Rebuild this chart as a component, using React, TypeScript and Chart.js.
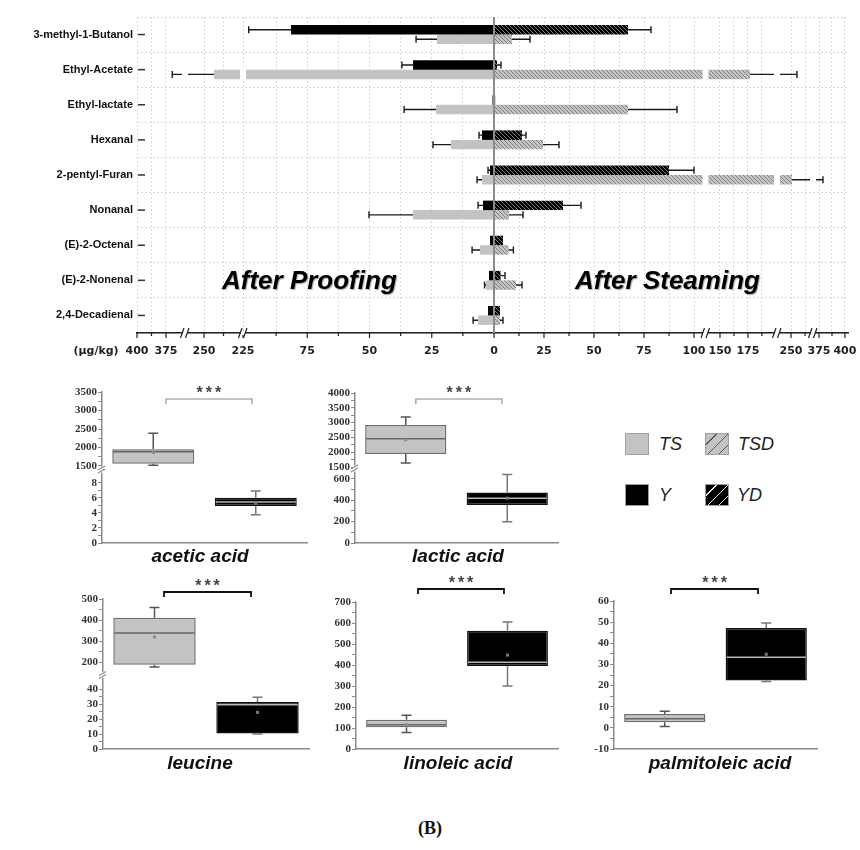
import React, { useEffect, useRef } from 'react';
import { Chart, registerables } from 'chart.js';
Chart.register(...registerables);

// ---------------- top panel data ----------------
const CATEGORIES = ['3-methyl-1-Butanol', 'Ethyl-Acetate', 'Ethyl-lactate', 'Hexanal', '2-pentyl-Furan', 'Nonanal', '(E)-2-Octenal', '(E)-2-Nonenal', '2,4-Decadienal'];
const Y_VALUES = [81.5, 32.5, 0.6, 4.8, 1.6, 4.4, 1.6, 2.0, 2.4];
const Y_ERRORS = [17, 4.5, 0, 1.2, 0.8, 2, 0, 0, 0];
const TS_VALUES = [22.9, 243.6, 23.3, 17.3, 4.8, 32.5, 5.6, 3.2, 6.4];
const TS_ERRORS = [8.4, 126, 12.8, 7.2, 2, 17.7, 3.2, 0.6, 2];
const YD_VALUES = [67, 1.5, 0.6, 14, 87.5, 34.5, 4.5, 3.3, 3];
const YD_ERRORS = [11.5, 2, 0, 2, 12.5, 9, 0, 2.2, 0];
const TSD_VALUES = [9, 176.9, 67, 24.5, 250.9, 7.5, 7.2, 11, 3];
const TSD_ERRORS = [9, 78.4, 24.5, 8, 127.9, 7, 2.5, 3, 1.5];

const AXIS_LEFT_TICKS = [400, 387.5, 375, 250, 237.5, 225, 87.5, 75, 62.5, 50, 37.5, 25, 12.5];
const AXIS_RIGHT_TICKS = [12.5, 25, 37.5, 50, 62.5, 75, 87.5, 100, 150, 162.5, 175, 187.5, 250, 262.5, 375, 387.5, 400];

// broken-axis scale definition: [valueStart, valueEnd, unitStart, unitEnd]
const LEFT_SEGMENTS = [[0, 100.8, 0, 251], [225, 262.2, 251, 309], [358.6, 400, 309, 357]];
const RIGHT_SEGMENTS = [[0, 105.5, 0, 211], [137.5, 201, 212, 283], [237.5, 269.6, 283, 319], [369.2, 402, 319, 353]];
const LEFT_BREAKS = [251, 309];
const RIGHT_BREAKS = [211.5, 283, 319];

// ---------------- box plot data: [min, q1, median, q3, max, mean] ----------------
const ACETIC_TS = [1518, 1563, 1883, 1955, 2387, 1865];
const ACETIC_Y = [3.78, 4.93, 5.47, 6.04, 6.93, 5.3];
const LACTIC_TS = [1636, 1943, 2455, 2920, 3193, 2420];
const LACTIC_Y = [199, 357, 420, 474, 641, 420];
const LEUCINE_TS = [176, 187, 338, 411, 459, 319];
const LEUCINE_Y = [10.0, 10.3, 29.7, 31.5, 34.6, 24.5];
const LINOLEIC_TS = [79, 103, 115, 139.5, 161, 115];
const LINOLEIC_Y = [300, 395, 413, 563, 605, 447];
const PALMITOLEIC_TS = [0.6, 2.7, 4.25, 6.6, 7.9, 4.3];
const PALMITOLEIC_Y = [21.9, 22.4, 33.4, 47.2, 49.6, 34.8];

const ACETIC_TICKS = [0, 2, 4, 6, 8, 1500, 2000, 2500, 3000, 3500];
const ACETIC_MINOR = [1, 3, 5, 7, 1750, 2250, 2750, 3250];
const LACTIC_TICKS = [0, 200, 400, 600, 1500, 2000, 2500, 3000, 3500, 4000];
const LACTIC_MINOR = [100, 300, 500, 1750, 2250, 2750, 3250, 3750];
const LEUCINE_TICKS = [0, 10, 20, 30, 40, 200, 300, 400, 500];
const LEUCINE_MINOR = [5, 15, 25, 35, 250, 350, 450];
const LINOLEIC_TICKS = [0, 100, 200, 300, 400, 500, 600, 700];
const LINOLEIC_MINOR = [50, 150, 250, 350, 450, 550, 650];
const PALMITOLEIC_TICKS = [-10, 0, 10, 20, 30, 40, 50, 60];
const PALMITOLEIC_MINOR = [-5, 5, 15, 25, 35, 45, 55];

const ACETIC_SEGMENTS = [[0, 9.33, 0, 70], [1500, 3500, 77, 151]];
const LACTIC_SEGMENTS = [[0, 684, 0, 73], [1500, 4000, 76, 150]];
const LEUCINE_SEGMENTS = [[0, 45, 0, 67.2], [170, 500, 80.7, 150]];
const LINOLEIC_SEGMENTS = [[0, 700, 0, 147]];
const PALMITOLEIC_SEGMENTS = [[-10, 60, 0, 148]];

function mapSegments(v: number, segs: number[][]): number {
  for (let k = 0; k < segs.length; k++) {
    const [v0, v1, u0, u1] = segs[k];
    if (v < v0) return u0;
    if (v <= v1 || k === segs.length - 1) return u0 + ((v - v0) * (u1 - u0)) / (v1 - v0);
  }
  return 0;
}
const mapLeft = (v: number) => mapSegments(v, LEFT_SEGMENTS);
const mapRight = (v: number) => mapSegments(v, RIGHT_SEGMENTS);

const GRAY = '#c3c3c3';

function makeHatch(ctx: CanvasRenderingContext2D, bg: string, fg: string, size: number, lw: number) {
  const c = document.createElement('canvas');
  c.width = size;
  c.height = size;
  const g = c.getContext('2d')!;
  g.fillStyle = bg;
  g.fillRect(0, 0, size, size);
  g.strokeStyle = fg;
  g.lineWidth = lw;
  g.beginPath();
  for (let k = -size; k <= size; k += size) {
    g.moveTo(k, 0);
    g.lineTo(k + size, size);
  }
  g.stroke();
  return ctx.createPattern(c, 'repeat')!;
}

function TopChart() {
  const ref = useRef<HTMLCanvasElement>(null);
  useEffect(() => {
    const canvas = ref.current!;
    const ctx0 = canvas.getContext('2d')!;
    const hatchBlack = makeHatch(ctx0, '#000', '#7a7a7a', 4, 1);
    const hatchGray = makeHatch(ctx0, GRAY, '#7f7f7f', 4, 1);

    const tickList = [
      ...AXIS_LEFT_TICKS.map((v) => ({ u: -mapLeft(v), v })),
      { u: 0, v: 0 },
      ...AXIS_RIGHT_TICKS.map((v) => ({ u: mapRight(v), v })),
    ].map((t) => ({ u: t.u, label: t.v % 25 === 0 ? String(t.v) : '' }));

    const series = [
      { values: Y_VALUES, errors: Y_ERRORS, side: -1 },
      { values: YD_VALUES, errors: YD_ERRORS, side: 1 },
      { values: TS_VALUES, errors: TS_ERRORS, side: -1 },
      { values: TSD_VALUES, errors: TSD_ERRORS, side: 1 },
    ];
    const mapSide = (v: number, side: number) => (side < 0 ? -mapLeft(v) : mapRight(v));

    const plugin = {
      id: 'topExtras',
      afterDatasetsDraw(chart: any) {
        const ctx = chart.ctx;
        const a = chart.chartArea;
        const xs = chart.scales.x;
        ctx.save();
        // error bars
        series.forEach((s, d) => {
          const meta = chart.getDatasetMeta(d);
          s.values.forEach((v, i) => {
            const err = s.errors[i];
            if (!err) return;
            const el = meta.data[i];
            const px = xs.getPixelForValue(mapSide(v + err, s.side));
            ctx.strokeStyle = '#1a1a1a';
            ctx.lineWidth = 1.4;
            ctx.beginPath();
            ctx.moveTo(el.x, el.y);
            ctx.lineTo(px, el.y);
            ctx.moveTo(px, el.y - 3.5);
            ctx.lineTo(px, el.y + 3.5);
            ctx.stroke();
          });
        });
        // gaps at axis breaks
        ctx.fillStyle = '#fff';
        series.forEach((s, d) => {
          const meta = chart.getDatasetMeta(d);
          const breaks = s.side < 0 ? LEFT_BREAKS : RIGHT_BREAKS;
          s.values.forEach((v, i) => {
            const extent = mapSide(v + s.errors[i], s.side) * s.side;
            const el = meta.data[i];
            breaks.forEach((b) => {
              if (extent > b + 1) {
                const px = xs.getPixelForValue(b * s.side);
                ctx.fillRect(px - 3, el.y - el.height / 2 - 0.5, 6, el.height + 1);
              }
            });
          });
        });
        // zero line
        const x0 = xs.getPixelForValue(0);
        ctx.strokeStyle = '#8c8c8c';
        ctx.lineWidth = 2;
        ctx.beginPath();
        ctx.moveTo(x0, a.top);
        ctx.lineTo(x0, a.bottom);
        ctx.stroke();
        ctx.restore();
      },
      afterDraw(chart: any) {
        const ctx = chart.ctx;
        const a = chart.chartArea;
        const xs = chart.scales.x;
        const ys = chart.scales.y;
        ctx.save();
        // tick marks
        ctx.strokeStyle = '#222';
        ctx.lineWidth = 1.2;
        tickList.forEach((t) => {
          const px = xs.getPixelForValue(t.u);
          ctx.beginPath();
          ctx.moveTo(px, a.bottom);
          ctx.lineTo(px, a.bottom + (t.label ? 5 : 3));
          ctx.stroke();
        });
        // axis breaks
        const allBreaks = [...LEFT_BREAKS.map((b) => -b), ...RIGHT_BREAKS];
        allBreaks.forEach((b) => {
          const px = xs.getPixelForValue(b);
          ctx.fillStyle = '#fff';
          ctx.fillRect(px - 2.5, a.bottom - 2, 5, 4);
          ctx.strokeStyle = '#222';
          ctx.lineWidth = 1.2;
          ctx.beginPath();
          ctx.moveTo(px - 4.5, a.bottom + 5);
          ctx.lineTo(px - 1, a.bottom - 5);
          ctx.moveTo(px + 0.5, a.bottom + 5);
          ctx.lineTo(px + 4, a.bottom - 5);
          ctx.stroke();
        });
        // category dashes
        ctx.strokeStyle = '#333';
        ctx.lineWidth = 1.5;
        CATEGORIES.forEach((_, i) => {
          const py = ys.getPixelForValue(i);
          ctx.beginPath();
          ctx.moveTo(a.left + 1, py);
          ctx.lineTo(a.left + 8, py);
          ctx.stroke();
        });
        // unit label
        ctx.fillStyle = '#222';
        ctx.font = 'bold 11px "DejaVu Sans"';
        ctx.textAlign = 'center';
        ctx.textBaseline = 'middle';
        ctx.fillText('(μg/kg)', 96, a.bottom + 18.6);
        // panel captions
        ctx.font = 'italic bold 26px "Liberation Sans"';
        ctx.textAlign = 'left';
        ctx.textBaseline = 'alphabetic';
        ctx.fillStyle = '#000';
        ctx.shadowColor = 'rgba(0,0,0,0.35)';
        ctx.shadowOffsetX = 1;
        ctx.shadowOffsetY = 1;
        ctx.shadowBlur = 1;
        ctx.fillText('After Proofing', 222, 289);
        ctx.fillText('After Steaming', 575, 289);
        ctx.restore();
      },
    };

    const chart = new Chart(canvas, {
      type: 'bar',
      data: {
        labels: CATEGORIES,
        datasets: [
          { label: 'Y', data: Y_VALUES.map((v) => -mapLeft(v)), backgroundColor: '#000', stack: 'upper' },
          { label: 'YD', data: YD_VALUES.map((v) => mapRight(v)), backgroundColor: hatchBlack, stack: 'upper' },
          { label: 'TS', data: TS_VALUES.map((v) => -mapLeft(v)), backgroundColor: GRAY, stack: 'lower' },
          { label: 'TSD', data: TSD_VALUES.map((v) => mapRight(v)), backgroundColor: hatchGray, stack: 'lower' },
        ] as any,
      },
      options: {
        indexAxis: 'y',
        animation: false,
        responsive: false,
        events: [],
        layout: { padding: { top: 17, right: 12, left: 0, bottom: 0 } },
        datasets: { bar: { categoryPercentage: 0.54, barPercentage: 1 } } as any,
        plugins: { legend: { display: false }, tooltip: { enabled: false } },
        scales: {
          x: {
            type: 'linear',
            min: -357,
            max: 354,
            stacked: false,
            afterBuildTicks: (s: any) => {
              s.ticks = tickList.map((t) => ({ value: t.u }));
            },
            afterFit: (s: any) => {
              s.height = 37;
              s.paddingLeft = 0;
              s.paddingRight = 0;
            },
            grid: { color: '#d9d9d9', lineWidth: 1, drawTicks: false },
            border: { display: true, color: '#222', width: 1.5, dash: [2, 2] },
            ticks: {
              autoSkip: false,
              maxRotation: 0,
              minRotation: 0,
              padding: 12,
              color: '#222',
              font: { family: 'DejaVu Sans', weight: 'bold', size: 11 },
              callback: (_v: any, idx: number) => (tickList[idx] ? tickList[idx].label : ''),
            },
          },
          y: {
            type: 'category',
            afterFit: (s: any) => {
              s.width = 137;
              s.paddingTop = 0;
              s.paddingBottom = 0;
            },
            grid: { offset: true, color: '#d9d9d9', lineWidth: 1, drawTicks: false },
            border: { display: false, dash: [2, 2] },
            ticks: { padding: 4, color: '#111', font: { family: 'Liberation Sans', weight: 'bold', size: 11 } },
          },
        },
      } as any,
      plugins: [plugin],
    });
    return () => chart.destroy();
  }, []);
  return (
    <canvas ref={ref} width={860} height={370} style={{ position: 'absolute', left: 0, top: 0, width: 860, height: 370 }} />
  );
}

type BoxCfg = {
  title: string;
  ts: number[];
  y: number[];
  segs: number[][];
  uMax: number;
  ticks: number[];
  minor: number[];
  breakU?: number;
  left: number;
  top: number;
  width: number;
  height: number;
  padTop: number;
  padRight: number;
  yWidth: number;
  xHeight: number;
  bracket: [number, number];
  bracketY: number;
  dark: boolean;
  titleX: number;
  titleY: number;
};

const BOX_CHARTS: BoxCfg[] = [
  { title: 'acetic acid', ts: ACETIC_TS, y: ACETIC_Y, segs: ACETIC_SEGMENTS, uMax: 151, ticks: ACETIC_TICKS, minor: ACETIC_MINOR, breakU: 73.5, left: 40, top: 375, width: 275, height: 195, padTop: 17, padRight: 8, yWidth: 62, xHeight: 27, bracket: [0.124, 0.963], bracketY: 399, dark: false, titleX: 200, titleY: 562 },
  { title: 'lactic acid', ts: LACTIC_TS, y: LACTIC_Y, segs: LACTIC_SEGMENTS, uMax: 150, ticks: LACTIC_TICKS, minor: LACTIC_MINOR, breakU: 74.5, left: 300, top: 375, width: 265, height: 195, padTop: 18, padRight: 7, yWidth: 55, xHeight: 27, bracket: [0.1, 0.948], bracketY: 399, dark: false, titleX: 458, titleY: 562 },
  { title: 'leucine', ts: LEUCINE_TS, y: LEUCINE_Y, segs: LEUCINE_SEGMENTS, uMax: 150, ticks: LEUCINE_TICKS, minor: LEUCINE_MINOR, breakU: 74, left: 40, top: 565, width: 275, height: 215, padTop: 34, padRight: 6, yWidth: 63, xHeight: 31, bracket: [0.092, 0.937], bracketY: 592, dark: true, titleX: 200, titleY: 769 },
  { title: 'linoleic acid', ts: LINOLEIC_TS, y: LINOLEIC_Y, segs: LINOLEIC_SEGMENTS, uMax: 147, ticks: LINOLEIC_TICKS, minor: LINOLEIC_MINOR, left: 300, top: 565, width: 265, height: 215, padTop: 37, padRight: 7, yWidth: 56, xHeight: 31, bracket: [0.114, 0.965], bracketY: 589, dark: true, titleX: 458, titleY: 769 },
  { title: 'palmitoleic acid', ts: PALMITOLEIC_TS, y: PALMITOLEIC_Y, segs: PALMITOLEIC_SEGMENTS, uMax: 148, ticks: PALMITOLEIC_TICKS, minor: PALMITOLEIC_MINOR, left: 560, top: 565, width: 265, height: 215, padTop: 36, padRight: 8, yWidth: 54, xHeight: 31, bracket: [0.062, 0.919], bracketY: 589, dark: true, titleX: 720, titleY: 769 },
];

function BoxChart({ cfg }: { cfg: BoxCfg }) {
  const ref = useRef<HTMLCanvasElement>(null);
  useEffect(() => {
    const canvas = ref.current!;
    const map = (v: number) => mapSegments(v, cfg.segs);
    const allTicks = [
      ...cfg.ticks.map((v) => ({ u: map(v), label: String(v) })),
      ...cfg.minor.map((v) => ({ u: map(v), label: '' })),
    ];
    const axisColor = '#8a8a8a';
    const plugin = {
      id: 'boxExtras',
      afterDatasetsDraw(chart: any) {
        const ctx = chart.ctx;
        const ys = chart.scales.y;
        const meta = chart.getDatasetMeta(0);
        const py = (v: number) => ys.getPixelForValue(map(v));
        ctx.save();
        [cfg.ts, cfg.y].forEach((st, i) => {
          const el = meta.data[i];
          const cx = el.x;
          const w = el.width;
          ctx.strokeStyle = i === 0 ? '#555' : '#777';
          ctx.lineWidth = 1.5;
          ctx.beginPath();
          ctx.moveTo(cx, py(st[3]));
          ctx.lineTo(cx, py(st[4]));
          ctx.moveTo(cx - 5, py(st[4]));
          ctx.lineTo(cx + 5, py(st[4]));
          ctx.moveTo(cx, py(st[1]));
          ctx.lineTo(cx, py(st[0]));
          ctx.moveTo(cx - 5, py(st[0]));
          ctx.lineTo(cx + 5, py(st[0]));
          ctx.stroke();
          ctx.strokeStyle = i === 0 ? '#666' : '#b5b5b5';
          ctx.beginPath();
          ctx.moveTo(cx - w / 2 + 1, py(st[2]));
          ctx.lineTo(cx + w / 2 - 1, py(st[2]));
          ctx.stroke();
          ctx.fillStyle = i === 0 ? '#8a8a8a' : '#777';
          ctx.fillRect(cx - 1.5, py(st[5]) - 1.5, 3, 3);
        });
        ctx.restore();
      },
      afterDraw(chart: any) {
        const ctx = chart.ctx;
        const a = chart.chartArea;
        const xs = chart.scales.x;
        const ys = chart.scales.y;
        ctx.save();
        if (cfg.breakU !== undefined) {
          const y = ys.getPixelForValue(cfg.breakU);
          const x = a.left;
          ctx.fillStyle = '#fff';
          ctx.fillRect(x - 2, y - 3, 4, 6);
          ctx.strokeStyle = axisColor;
          ctx.lineWidth = 1.2;
          ctx.beginPath();
          ctx.moveTo(x - 4, y + 0.5);
          ctx.lineTo(x + 3, y - 3.5);
          ctx.moveTo(x - 4, y + 3.5);
          ctx.lineTo(x + 3, y - 0.5);
          ctx.stroke();
        }
        // significance bracket
        const c0 = xs.getPixelForValue(0);
        const c1 = xs.getPixelForValue(1);
        const x1 = c0 + cfg.bracket[0] * (c1 - c0);
        const x2 = c0 + cfg.bracket[1] * (c1 - c0);
        const by = cfg.bracketY - cfg.top;
        ctx.strokeStyle = cfg.dark ? '#111' : '#888';
        ctx.lineWidth = cfg.dark ? 1.8 : 1.1;
        ctx.beginPath();
        ctx.moveTo(x1, by + 5);
        ctx.lineTo(x1, by);
        ctx.lineTo(x2, by);
        ctx.lineTo(x2, by + 5);
        ctx.stroke();
        ctx.fillStyle = '#444';
        ctx.font = 'bold 16px "Liberation Sans"';
        ctx.textAlign = 'center';
        ctx.textBaseline = 'alphabetic';
        try {
          (ctx as any).letterSpacing = '3px';
        } catch (e) {}
        ctx.fillText('***', (x1 + x2) / 2 + 1.5, by - 1);
        try {
          (ctx as any).letterSpacing = '0px';
        } catch (e) {}
        // title
        ctx.fillStyle = '#111';
        ctx.font = 'italic bold 19px "Liberation Sans"';
        ctx.fillText(cfg.title, cfg.titleX - cfg.left, cfg.titleY - cfg.top);
        ctx.restore();
      },
    };
    const chart = new Chart(canvas, {
      type: 'bar',
      data: {
        labels: ['TS', 'Y'],
        datasets: [
          {
            data: [
              [map(cfg.ts[1]), map(cfg.ts[3])],
              [map(cfg.y[1]), map(cfg.y[3])],
            ],
            backgroundColor: [GRAY, '#000'],
            borderColor: ['#6e6e6e', '#111'],
            borderWidth: 1.5,
            borderSkipped: false,
            barPercentage: 0.8,
            categoryPercentage: 1,
          },
        ] as any,
      },
      options: {
        animation: false,
        responsive: false,
        events: [],
        layout: { padding: { top: cfg.padTop, right: cfg.padRight, left: 0, bottom: 0 } },
        plugins: { legend: { display: false }, tooltip: { enabled: false } },
        scales: {
          x: {
            type: 'category',
            afterFit: (s: any) => {
              s.height = cfg.xHeight;
              s.paddingLeft = 0;
              s.paddingRight = 0;
            },
            grid: { display: false },
            ticks: { display: false },
            border: { display: true, color: axisColor, width: 1.5 },
          },
          y: {
            type: 'linear',
            min: 0,
            max: cfg.uMax,
            afterBuildTicks: (s: any) => {
              s.ticks = allTicks.map((t) => ({ value: t.u }));
            },
            afterFit: (s: any) => {
              s.width = cfg.yWidth;
              s.paddingTop = 0;
              s.paddingBottom = 0;
            },
            grid: { display: true, drawOnChartArea: false, drawTicks: true, tickLength: 4, tickColor: axisColor, tickWidth: 1 },
            border: { display: true, color: axisColor, width: 1.5 },
            ticks: {
              autoSkip: false,
              padding: 1,
              color: '#333',
              font: { family: 'Liberation Serif', weight: 'bold', size: 11 },
              callback: (_v: any, idx: number) => (allTicks[idx] ? allTicks[idx].label : ''),
            },
          },
        },
      } as any,
      plugins: [plugin],
    });
    return () => chart.destroy();
  }, [cfg]);
  return (
    <canvas
      ref={ref}
      width={cfg.width}
      height={cfg.height}
      style={{ position: 'absolute', left: cfg.left, top: cfg.top, width: cfg.width, height: cfg.height }}
    />
  );
}

function Legend() {
  const font = 'italic 18px "Liberation Sans", Arial, sans-serif';
  const box = (left: number, top: number, bg: string) => (
    <div style={{ position: 'absolute', left, top, width: 24, height: 22, background: bg, boxSizing: 'border-box', border: '1px solid #a0a0a0' }} />
  );
  const txt = (left: number, top: number, s: string) => (
    <div style={{ position: 'absolute', left, top, font, color: '#222', lineHeight: '22px' }}>{s}</div>
  );
  return (
    <>
      {box(625, 433, GRAY)}
      {txt(659, 433, 'TS')}
      {box(705, 433, `repeating-linear-gradient(135deg, ${GRAY} 0px, ${GRAY} 7px, #5a5a5a 7px, #5a5a5a 8px)`)}
      {txt(738, 433, 'TSD')}
      {box(625, 484, '#000')}
      {txt(659, 484, 'Y')}
      {box(705, 484, 'repeating-linear-gradient(135deg, #000 0px, #000 7px, #e8e8e8 7px, #e8e8e8 8px)')}
      {txt(737, 484, 'YD')}
    </>
  );
}

export default function App() {
  return (
    <div style={{ position: 'absolute', left: 0, top: 0, width: 860, height: 850, background: '#fff', overflow: 'hidden' }}>
      <TopChart />
      {BOX_CHARTS.map((c) => (
        <BoxChart key={c.title} cfg={c} />
      ))}
      <Legend />
      <div style={{ position: 'absolute', left: 0, top: 817, width: 860, textAlign: 'center', font: 'bold 18px "Liberation Serif", serif', color: '#111', lineHeight: '22px' }}>
        (B)
      </div>
    </div>
  );
}
